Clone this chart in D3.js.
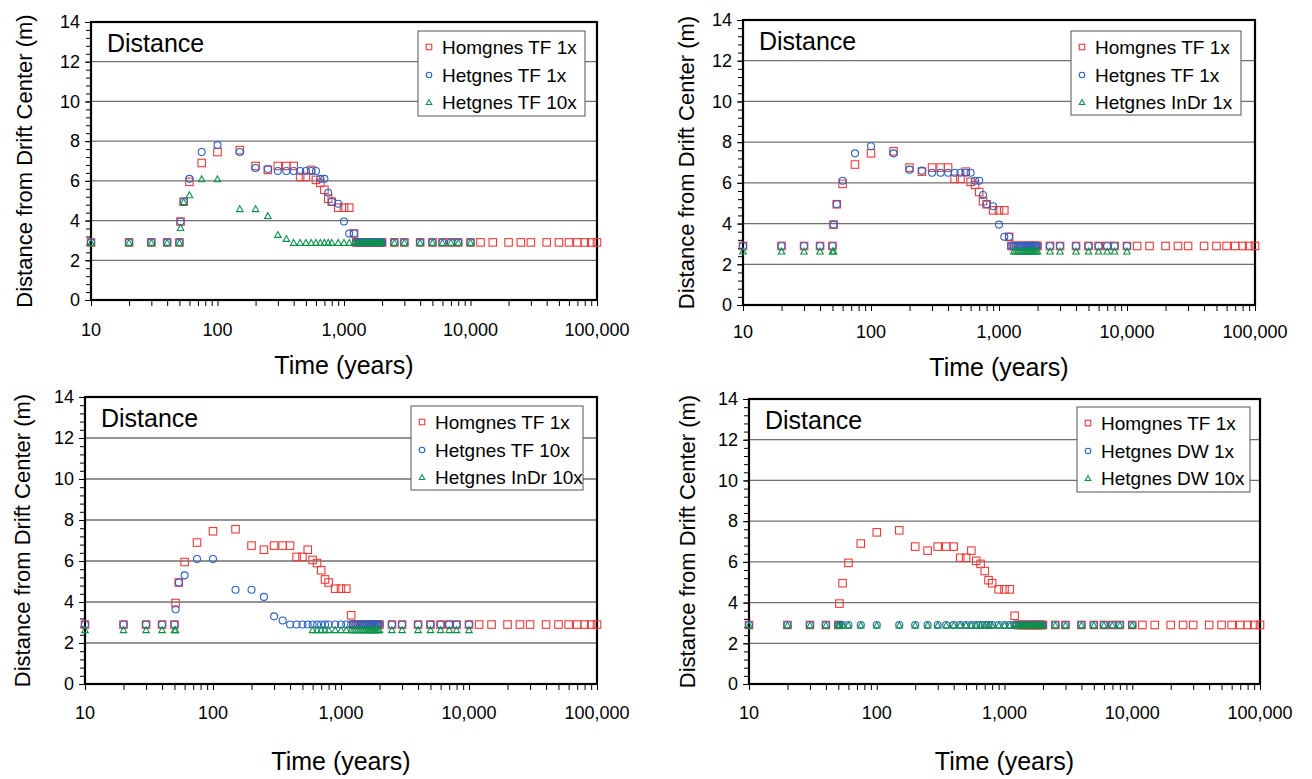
<!DOCTYPE html>
<html>
<head>
<meta charset="utf-8">
<script src="https://cdn.jsdelivr.net/npm/d3@7"></script>
<style>
  html, body { margin: 0; padding: 0; background: #fff; }
  svg { display: block; font-family: "Liberation Sans", Arial, sans-serif; }
</style>
</head>
<body>
<svg id="chart" width="1312" height="779"></svg>
<script>
// ---------------- DATA ----------------
const xTickValues = [10, 100, 1000, 10000, 100000];
const yTickValues = [0, 2, 4, 6, 8, 10, 12, 14];
const gridValues = [2, 4, 6, 8, 10, 12];

// Homgnes TF 1x (same reference series in every panel)
const homTF1xTime = [10,20,30,40,50,51,54,60,75,100,150,200,250,300,350,400,450,500,550,600,650,700,750,800,900,1000,1100,1200,
  1250,1300,1350,1400,1450,1500,1550,1600,1650,1700,1750,1800,1850,1900,1950,2000,
  2500,3000,4000,5000,6000,7000,8000,10000,
  12000,15000,20000,25000,30000,40000,50000,60000,70000,80000,90000,100000];
const homTF1xDist = [2.9,2.9,2.9,2.9,2.9,3.95,4.95,5.95,6.9,7.45,7.55,6.75,6.55,6.75,6.75,6.75,6.2,6.2,6.55,6.05,5.9,5.55,5.1,4.95,4.65,4.65,4.65,3.35,
  2.9,2.9,2.9,2.9,2.9,2.9,2.9,2.9,2.9,2.9,2.9,2.9,2.9,2.9,2.9,2.9,
  2.9,2.9,2.9,2.9,2.9,2.9,2.9,2.9,
  2.9,2.9,2.9,2.9,2.9,2.9,2.9,2.9,2.9,2.9,2.9,2.9];

// Heterogeneous runs share this time grid
const hetTime = [10,20,30,40,50,51,54,60,75,100,150,200,250,300,350,400,450,500,550,600,650,700,750,800,900,1000,1100,1200,
  1250,1300,1350,1400,1450,1500,1550,1600,1650,1700,1750,1800,1850,1900,1950,2000,
  2500,3000,4000,5000,6000,7000,8000,10000];

const hetTF1xDist = [2.9,2.9,2.9,2.9,2.9,3.95,4.95,6.1,7.45,7.8,7.45,6.65,6.6,6.5,6.5,6.5,6.5,6.5,6.5,6.5,6.1,6.1,5.4,4.95,4.85,3.95,3.35,3.35,
  2.9,2.9,2.9,2.9,2.9,2.9,2.9,2.9,2.9,2.9,2.9,2.9,2.9,2.9,2.9,2.9,
  2.9,2.9,2.9,2.9,2.9,2.9,2.9,2.9];

const hetTF10xDist = [2.9,2.9,2.9,2.9,2.9,3.65,4.95,5.3,6.1,6.1,4.6,4.6,4.25,3.3,3.1,2.9,2.9,2.9,2.9,2.9,2.9,2.9,2.9,2.9,2.9,2.9,2.9,2.9,
  2.9,2.9,2.9,2.9,2.9,2.9,2.9,2.9,2.9,2.9,2.9,2.9,2.9,2.9,2.9,2.9,
  2.9,2.9,2.9,2.9,2.9,2.9,2.9,2.9];

const hetInDr1xTime = [10,20,30,40,50,51,
  1300,1350,1400,1450,1500,1550,1600,1650,1700,1750,1800,1850,1900,1950,2000,
  2500,3000,4000,5000,6000,7000,8000,10000];
const hetInDr1xDist = [2.65,2.65,2.65,2.65,2.65,2.65,
  2.65,2.65,2.65,2.65,2.65,2.65,2.65,2.65,2.65,2.65,2.65,2.65,2.65,2.65,2.65,
  2.65,2.65,2.65,2.65,2.65,2.65,2.65,2.65];

const hetInDr10xTime = [10,20,30,40,50,51,
  600,650,700,750,800,900,1000,1100,1200,
  1250,1300,1350,1400,1450,1500,1550,1600,1650,1700,1750,1800,1850,1900,1950,2000,
  2500,3000,4000,5000,6000,7000,8000,10000];
const hetInDr10xDist = [2.65,2.65,2.65,2.65,2.65,2.65,
  2.65,2.65,2.65,2.65,2.65,2.65,2.65,2.65,2.65,
  2.65,2.65,2.65,2.65,2.65,2.65,2.65,2.65,2.65,2.65,2.65,2.65,2.65,2.65,2.65,2.65,
  2.65,2.65,2.65,2.65,2.65,2.65,2.65,2.65];

const hetDW1xDist = [2.9,2.9,2.9,2.9,2.9,2.9,2.9,2.9,2.9,2.9,2.9,2.9,2.9,2.9,2.9,2.9,2.9,2.9,2.9,2.9,2.9,2.9,2.9,2.9,2.9,2.9,2.9,2.9,
  2.9,2.9,2.9,2.9,2.9,2.9,2.9,2.9,2.9,2.9,2.9,2.9,2.9,2.9,2.9,2.9,
  2.9,2.9,2.9,2.9,2.9,2.9,2.9,2.9];
const hetDW10xDist = [2.9,2.9,2.9,2.9,2.9,2.9,2.9,2.9,2.9,2.9,2.9,2.9,2.9,2.9,2.9,2.9,2.9,2.9,2.9,2.9,2.9,2.9,2.9,2.9,2.9,2.9,2.9,2.9,
  2.9,2.9,2.9,2.9,2.9,2.9,2.9,2.9,2.9,2.9,2.9,2.9,2.9,2.9,2.9,2.9,
  2.9,2.9,2.9,2.9,2.9,2.9,2.9,2.9];

const panelTitle = "Distance";
const xTitle = "Time (years)";
const yTitle = "Distance from Drift Center (m)";

const panelSeries = [
  [ {name: "Homgnes TF 1x", t: homTF1xTime, d: homTF1xDist, shape: "square"},
    {name: "Hetgnes TF 1x", t: hetTime, d: hetTF1xDist, shape: "circle"},
    {name: "Hetgnes TF 10x", t: hetTime, d: hetTF10xDist, shape: "triangle"} ],
  [ {name: "Homgnes TF 1x", t: homTF1xTime, d: homTF1xDist, shape: "square"},
    {name: "Hetgnes TF 1x", t: hetTime, d: hetTF1xDist, shape: "circle"},
    {name: "Hetgnes InDr 1x", t: hetInDr1xTime, d: hetInDr1xDist, shape: "triangle"} ],
  [ {name: "Homgnes TF 1x", t: homTF1xTime, d: homTF1xDist, shape: "square"},
    {name: "Hetgnes TF 10x", t: hetTime, d: hetTF10xDist, shape: "circle"},
    {name: "Hetgnes InDr 10x", t: hetInDr10xTime, d: hetInDr10xDist, shape: "triangle"} ],
  [ {name: "Homgnes TF 1x", t: homTF1xTime, d: homTF1xDist, shape: "square"},
    {name: "Hetgnes DW 1x", t: hetTime, d: hetDW1xDist, shape: "circle"},
    {name: "Hetgnes DW 10x", t: hetTime, d: hetDW10xDist, shape: "triangle"} ]
];

// ---------------- LAYOUT ----------------
const layouts = [
  {l: 91,  r: 597,  t: 22,  b: 300, leg: {x: 418,  y: 31,  w: 167, h: 85}, yTitleX: 24,  tickLabY: 336, xTitleY: 374},
  {l: 743, r: 1255, t: 20,  b: 305, leg: {x: 1071, y: 31,  w: 170, h: 84}, yTitleX: 686, tickLabY: 338, xTitleY: 376},
  {l: 85,  r: 597,  t: 397, b: 684, leg: {x: 411,  y: 406, w: 172, h: 84}, yTitleX: 22,  tickLabY: 719, xTitleY: 770},
  {l: 749, r: 1260, t: 399, b: 684, leg: {x: 1077, y: 407, w: 173, h: 85}, yTitleX: 687, tickLabY: 719, xTitleY: 770}
];
const colors = {square: "#ef3a3a", circle: "#2a62c6", triangle: "#0b9248"};

const svg = d3.select("#chart");

function marker(g, shape, x, y, s) {
  if (shape === "square") {
    g.append("rect").attr("x", x - s/2).attr("y", y - s/2).attr("width", s).attr("height", s)
      .attr("fill", "none").attr("stroke", colors.square).attr("stroke-width", 1.1);
  } else if (shape === "circle") {
    g.append("circle").attr("cx", x).attr("cy", y).attr("r", s/2)
      .attr("fill", "none").attr("stroke", colors.circle).attr("stroke-width", 1.1);
  } else {
    const h = s * 0.9;
    g.append("path").attr("d", `M${x},${y - h/2}L${x + s/2},${y + h/2}L${x - s/2},${y + h/2}Z`)
      .attr("fill", "none").attr("stroke", colors.triangle).attr("stroke-width", 1.1);
  }
}

layouts.forEach((L, pi) => {
  const g = svg.append("g");
  const x = d3.scaleLog().domain([10, 100000]).range([L.l, L.r]);
  const y = d3.scaleLinear().domain([0, 14]).range([L.b, L.t]);

  // gridlines
  g.selectAll(".grid").data(gridValues).enter().append("line")
    .attr("x1", L.l).attr("x2", L.r).attr("y1", d => y(d)).attr("y2", d => y(d))
    .attr("stroke", "#707070").attr("stroke-width", 1.3);

  // y axis minor ticks (every 0.4)
  const yMinor = d3.range(0, 35).map(i => i * 0.4);
  g.append("g").attr("transform", `translate(${L.l},0)`)
    .call(d3.axisLeft(y).tickValues(yMinor).tickSize(5).tickFormat(""))
    .call(a => a.select(".domain").remove())
    .call(a => a.selectAll("line").attr("stroke", "#000").attr("stroke-width", 1));
  // y axis labels
  g.append("g").attr("transform", `translate(${L.l},0)`)
    .call(d3.axisLeft(y).tickValues(yTickValues).tickSize(6).tickPadding(5).tickFormat(d3.format("d")))
    .call(a => a.select(".domain").remove())
    .call(a => a.selectAll("line").attr("stroke", "#000"))
    .call(a => a.selectAll("text").attr("font-size", 18).attr("fill", "#000")
      .attr("font-family", "Liberation Sans, Arial, sans-serif"));

  // x axis ticks
  const xt = x.ticks();
  g.append("g").attr("transform", `translate(0,${L.b})`)
    .call(d3.axisBottom(x).tickValues(xt).tickSize(6).tickFormat(""))
    .call(a => a.select(".domain").remove())
    .call(a => a.selectAll("line").attr("stroke", "#000"));
  g.selectAll(".xlab").data(xTickValues).enter().append("text")
    .attr("x", d => x(d)).attr("y", L.tickLabY).attr("text-anchor", "middle")
    .attr("font-size", 18).text(d => d3.format(",")(d));

  // plot border
  g.append("rect").attr("x", L.l).attr("y", L.t).attr("width", L.r - L.l).attr("height", L.b - L.t)
    .attr("fill", "none").attr("stroke", "#000").attr("stroke-width", 2.2);

  // titles
  g.append("text").attr("x", L.l + 16).attr("y", L.t + 30).attr("font-size", 25).text(panelTitle);
  g.append("text").attr("x", (L.l + L.r) / 2).attr("y", L.xTitleY).attr("text-anchor", "middle")
    .attr("font-size", 25).text(xTitle);
  g.append("text").attr("transform", `translate(${L.yTitleX},${(L.t + L.b) / 2}) rotate(-90)`)
    .attr("text-anchor", "middle").attr("dominant-baseline", "central").attr("font-size", 22).text(yTitle);

  // data
  const series = panelSeries[pi];
  series.forEach(s => {
    const sg = g.append("g");
    const sz = s.shape === "square" ? 7.5 : s.shape === "circle" ? 7 : 6.5;
    s.t.forEach((tv, i) => marker(sg, s.shape, x(tv), y(s.d[i]), sz));
  });

  // legend
  const lg = g.append("g");
  lg.append("rect").attr("x", L.leg.x).attr("y", L.leg.y).attr("width", L.leg.w).attr("height", L.leg.h)
    .attr("fill", "#fff").attr("stroke", "#555").attr("stroke-width", 1);
  const rowY = [16, 44, 71];
  series.forEach((s, i) => {
    const cy = L.leg.y + rowY[i];
    marker(lg, s.shape, L.leg.x + 11, cy, 5.5);
    lg.append("text").attr("x", L.leg.x + 24).attr("y", cy + 7).attr("font-size", 19).text(s.name);
  });
});
</script>
</body>
</html>
